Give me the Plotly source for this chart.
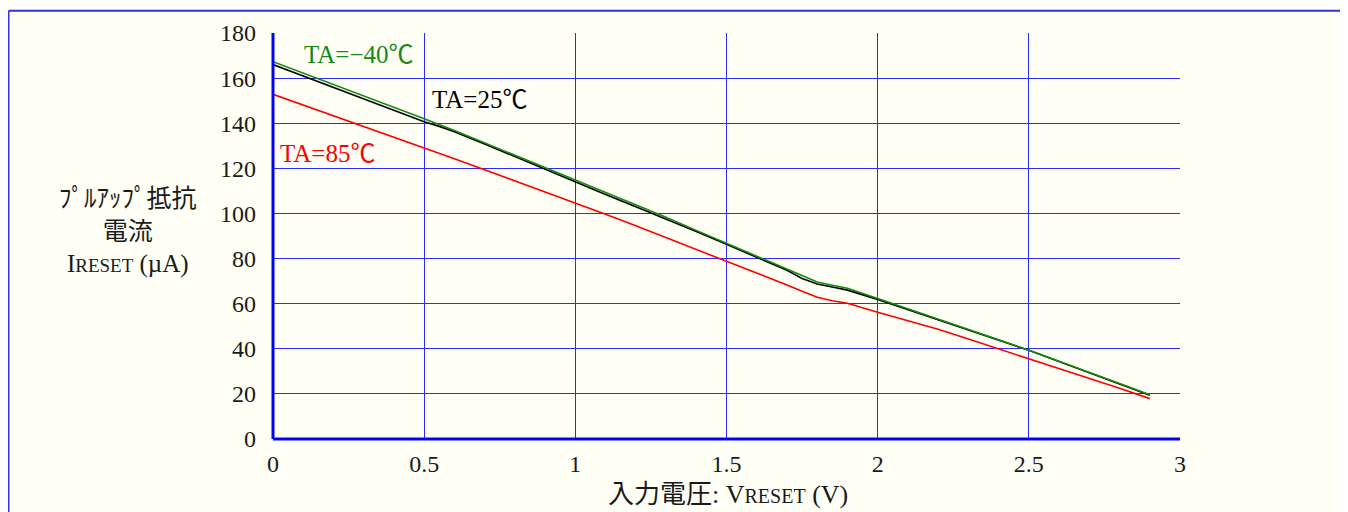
import plotly.graph_objects as go

# ---- data ----
v_m40 = [0, 0.1, 0.2, 0.3, 0.4, 0.5, 0.6, 0.7, 0.8, 0.9, 1.0, 1.1, 1.2, 1.3, 1.4, 1.5,
         1.6, 1.7, 1.75, 1.8, 1.85, 1.9, 2.0, 2.1, 2.2, 2.3, 2.4, 2.5, 2.6, 2.7, 2.8, 2.9]
i_m40 = [167.3, 162.3, 157.3, 152.2, 147.1, 142.0, 136.8, 131.3, 125.8, 120.4, 115.0,
         109.6, 104.0, 98.3, 92.5, 86.8, 81.2, 75.4, 72.5, 69.6, 68.2, 66.8, 62.3, 57.8,
         53.3, 48.7, 44.0, 39.3, 34.5, 29.6, 24.6, 19.6]

v_25 = [0, 0.1, 0.2, 0.3, 0.4, 0.5, 0.55, 0.6, 0.7, 0.8, 0.9, 1.0, 1.05, 1.1, 1.2, 1.3,
        1.4, 1.5, 1.6, 1.7, 1.75, 1.8, 1.85, 1.9, 2.0, 2.1, 2.2, 2.3, 2.4, 2.5, 2.6, 2.7,
        2.8, 2.9]
i_25 = [166.0, 161.0, 155.9, 150.8, 145.7, 140.7, 138.6, 136.2, 130.8, 125.2, 119.7,
        113.8, 111.0, 108.4, 103.0, 97.6, 92.0, 86.3, 80.6, 74.8, 71.2, 68.7, 67.4, 66.0,
        61.9, 57.4, 52.8, 48.2, 43.8, 39.3, 34.4, 29.5, 24.5, 19.4]

v_85 = [0, 0.1, 0.2, 0.3, 0.4, 0.5, 0.6, 0.7, 0.8, 0.9, 1.0, 1.1, 1.2, 1.3, 1.4, 1.5,
        1.6, 1.7, 1.75, 1.8, 1.85, 1.9, 2.0, 2.1, 2.2, 2.3, 2.4, 2.5, 2.6, 2.7, 2.8, 2.9]
i_85 = [152.8, 148.1, 143.4, 138.6, 133.9, 129.2, 124.3, 119.4, 114.5, 109.6, 104.8,
        99.6, 94.5, 89.3, 84.2, 79.0, 73.6, 68.3, 65.5, 62.8, 61.3, 60.2, 56.2, 52.3,
        48.7, 44.3, 40.0, 35.6, 31.3, 27.0, 22.5, 17.9]

x_ticks = [0, 0.5, 1, 1.5, 2, 2.5, 3]
x_tick_labels = ["0", "0.5", "1", "1.5", "2", "2.5", "3"]
y_ticks = [0, 20, 40, 60, 80, 100, 120, 140, 160, 180]
y_tick_labels = [str(t) for t in y_ticks]

labels = ["TA=−40℃", "TA=25℃", "TA=85℃"]
colors = ["#138a13", "#000000", "#ff0000"]

SERIF = "Liberation Serif, DejaVu Serif, serif"
JP = "Liberation Serif, Noto Sans CJK JP, serif"
BG = "#fffff6"
GRID = "#2b2bff"
TXT = "#1a1a1a"

fig = go.Figure()
for xs, ys, name, c in [(v_25, i_25, labels[1], colors[1]),
                        (v_m40, i_m40, labels[0], colors[0]),
                        (v_85, i_85, labels[2], colors[2])]:
    fig.add_trace(go.Scatter(x=xs, y=ys, mode="lines", name=name,
                             line=dict(color=c, width=1.6), showlegend=False,
                             hoverinfo="skip"))

# curve labels
fig.add_annotation(x=0.095, y=170.5, text=labels[0], showarrow=False, xanchor="left",
                   yanchor="middle", font=dict(family=JP, size=25, color=colors[0]))
fig.add_annotation(x=0.52, y=150.5, text=labels[1], showarrow=False, xanchor="left",
                   yanchor="middle", font=dict(family=JP, size=25, color=colors[1]))
fig.add_annotation(x=0.015, y=126.5, text=labels[2], showarrow=False, xanchor="left",
                   yanchor="middle", font=dict(family=JP, size=25, color=colors[2]))

# y-axis title (three lines, placed left of tick labels)
fig.add_annotation(xref="paper", yref="paper", x=-0.160, y=0.51,
                   text="ﾌﾟﾙｱｯﾌﾟ抵抗<br>電流<br>I<span style='font-size:19px'>RESET</span> (µA)",
                   showarrow=False, xanchor="center", yanchor="middle", align="center",
                   font=dict(family=JP, size=25, color=TXT))

# x-axis title
fig.add_annotation(xref="paper", yref="paper", x=0.502, y=-0.095,
                   text="入力電圧: V<span style='font-size:20px'>RESET</span> (V)",
                   showarrow=False, xanchor="center", yanchor="top",
                   font=dict(family=JP, size=26, color=TXT))

# blue frame around the figure panel
fig.add_shape(type="line", xref="paper", yref="paper", x0=-0.2916, x1=1.2,
              y0=1.0546, y1=1.0546, line=dict(color="#3333dd", width=2))
fig.add_shape(type="line", xref="paper", yref="paper", x0=-0.2916, x1=-0.2916,
              y0=-0.2, y1=1.0546, line=dict(color="#3333dd", width=2))

fig.update_layout(
    width=1348, height=512,
    margin=dict(l=265, r=176, t=23, b=81, pad=0),
    paper_bgcolor=BG, plot_bgcolor=BG,
    font=dict(family=SERIF, size=24, color=TXT),
    xaxis=dict(range=[0, 3], tickvals=x_ticks, ticktext=x_tick_labels,
               showgrid=True, gridcolor=GRID, gridwidth=1, zeroline=False,
               showline=False, ticks="", ticklabelstandoff=8,
               tickfont=dict(family=SERIF, size=24, color=TXT)),
    yaxis=dict(range=[0, 180], tickvals=y_ticks, ticktext=y_tick_labels,
               showgrid=True, gridcolor=GRID, gridwidth=1, zeroline=False,
               showline=False, ticks="", ticklabelstandoff=16,
               tickfont=dict(family=SERIF, size=24, color=TXT)),
)

# thick axes (left and bottom)
fig.add_shape(type="line", xref="paper", yref="paper", x0=0, x1=1, y0=0, y1=0,
              line=dict(color="#0000ff", width=3))
fig.add_shape(type="line", xref="paper", yref="paper", x0=0, x1=0, y0=0, y1=1,
              line=dict(color="#0000ff", width=3))

fig.write_html("out.html")
